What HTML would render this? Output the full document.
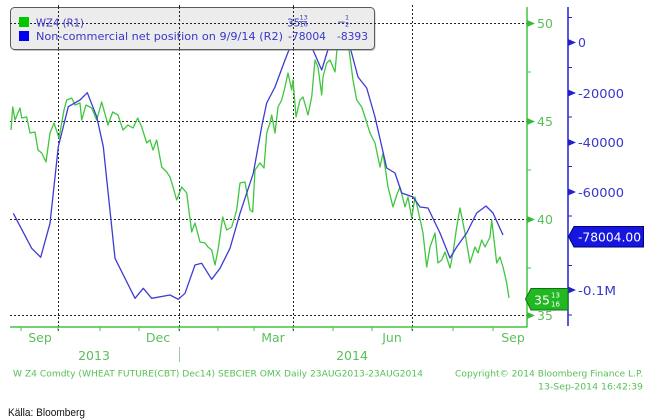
<!DOCTYPE html>
<html><head><meta charset="utf-8"><style>
html,body{margin:0;padding:0;background:#fff;}
svg{display:block;}
</style></head><body>
<svg width="648" height="419" viewBox="0 0 648 419" xmlns="http://www.w3.org/2000/svg">
<rect width="648" height="419" fill="#fff"/>
<!-- gridlines -->
<g stroke="#222" stroke-width="1" stroke-dasharray="2,2" fill="none">
<line x1="10" y1="23.5" x2="527" y2="23.5"/>
<line x1="10" y1="121.5" x2="527" y2="121.5"/>
<line x1="10" y1="219.5" x2="527" y2="219.5"/>
<line x1="10" y1="315.5" x2="527" y2="315.5"/>
<line x1="58.5" y1="5" x2="58.5" y2="331"/>
<line x1="179.5" y1="5" x2="179.5" y2="331"/>
<line x1="293.5" y1="5" x2="293.5" y2="331"/>
<line x1="412.5" y1="5" x2="412.5" y2="331"/>
</g>
<!-- series -->
<polyline fill="none" stroke="#3fc63f" stroke-width="1.3" stroke-linejoin="round" points="11,130 12.7,107 15,120 20,108 21.7,118 26.7,117 30,133 35,132 38,150 41.7,153 46,162 50,133 54,123 59,138 64,110 66.7,100 71.7,98 75,105 80,103 81.7,120 86,105 91.7,108 96.7,120 101.7,102 108,125 112.7,112 118,115 123,130 128,125 133,128 137.7,118 141.7,127 146.7,143 150,140 153,150 156.7,140 161.7,167 166.7,172 170,177 173,187 176.7,200 181.7,187 186.7,193 191.7,232 195,223 200,242 205,243 208,247 211.7,250 215,265 218,250 222.7,217 226.7,230 231.7,227 236.7,210 240,183 245,182 250,210 252.7,212 255,170 260,163 264,168 266.7,133 270,123 271.7,115 275,133 278,107 281.7,100 285,87 288,73 291.7,90 293,80 296,117 300,100 303,97 308,115 311.7,97 315,60 318,67 321.7,95 323,77 326.7,63 330,60 335,72 338,37 341.7,43 345,33 348,42 353,80 356.7,100 361.7,107 365,117 370,133 375,143 380,167 383,153 388,187 393,207 396.7,195 400,187 405,207 408,197 411.7,218 415,197 418,210 423,233 426.7,267 430,247 435,233 438,263 441.7,260 445,252 450,268 453,253 456.7,227 460,208 465,233 470,263 475,247 478,253 481.7,240 485,247 490,237 491.7,220 496.7,263 500,257 503,267 506.7,283 509,298"/>
<polyline fill="none" stroke="#3c3cd4" stroke-width="1.3" stroke-linejoin="round" points="13.3,213.3 31.7,248.3 40.7,257.3 50,223.3 58.3,146.7 68.3,106.7 80,100 87.3,92.7 96.7,116.7 103.3,146.7 115,258.3 135,298.3 143.3,288.3 151.7,298.3 170,295 178.3,299.3 185,293.3 195,265 201.7,263.3 211.7,279.3 220,268.3 230,248.3 240,213.3 253.3,173.3 262,125 266.7,103 275,87 285,60 291.7,43 293,39 306.7,40 313,50 321.7,70 330,43 333,40 343,38 350,47 358,77 366.7,88 375,117 386.7,168 395,173 401.7,193 413,197 420,207 428,208 440,233 450,258 456.7,247 466.7,233 476.7,213 486,206 493,213 503,235"/>
<!-- legend -->
<rect x="11.5" y="9" width="364" height="42" rx="4" fill="#777" opacity="0.45"/>
<rect x="10.5" y="7.5" width="364" height="42" rx="4" fill="#ececec" stroke="#5a5a5a" stroke-width="1"/>
<g stroke="#222" stroke-width="1" stroke-dasharray="2,2" fill="none">
<line x1="10" y1="23.5" x2="375" y2="23.5"/>
<line x1="58.5" y1="7" x2="58.5" y2="50"/>
<line x1="179.5" y1="7" x2="179.5" y2="50"/>
<line x1="293.5" y1="7" x2="293.5" y2="50"/>
</g>
<rect x="19" y="17" width="10" height="10" fill="#00c800"/>
<rect x="19" y="31" width="10" height="10" fill="#0000ee"/>
<g font-family="DejaVu Sans, sans-serif" font-size="10.5" fill="#3838c8">
<text x="36" y="26.5" textLength="48" lengthAdjust="spacingAndGlyphs">WZ4 (R1)</text>
<text x="36" y="40" textLength="247" lengthAdjust="spacingAndGlyphs">Non-commercial net position on 9/9/14 (R2)</text>
<text x="287" y="26.5">35</text>
<text x="299.5" y="19.5" font-size="6.5">13</text>
<text x="299.5" y="26.5" font-size="6.5">16</text>
<line x1="299" y1="21.5" x2="307" y2="21.5" stroke="#3838c8" stroke-width="0.7"/>
<text x="337" y="25.5">−</text>
<text x="345" y="19.5" font-size="6.5">1</text>
<text x="345" y="26.5" font-size="6.5">2</text>
<text x="288" y="40" textLength="38" lengthAdjust="spacingAndGlyphs">-78004</text>
<text x="337" y="40" textLength="31" lengthAdjust="spacingAndGlyphs">-8393</text>
</g>
<!-- axes -->
<line x1="527" y1="7" x2="527" y2="327.5" stroke="#44c444" stroke-width="1.5"/>
<line x1="10" y1="327" x2="527" y2="327" stroke="#44c444" stroke-width="1.5"/>
<line x1="568" y1="7" x2="568" y2="326" stroke="#2020d0" stroke-width="1.5"/>
<g stroke="#44c444" stroke-width="1">
<line x1="21" y1="327" x2="21" y2="331"/><line x1="58" y1="327" x2="58" y2="331"/><line x1="100" y1="327" x2="100" y2="331"/><line x1="139" y1="327" x2="139" y2="331"/><line x1="179" y1="327" x2="179" y2="331"/><line x1="218" y1="327" x2="218" y2="331"/><line x1="254" y1="327" x2="254" y2="331"/><line x1="293" y1="327" x2="293" y2="331"/><line x1="333" y1="327" x2="333" y2="331"/><line x1="372" y1="327" x2="372" y2="331"/><line x1="412" y1="327" x2="412" y2="331"/><line x1="453" y1="327" x2="453" y2="331"/><line x1="493" y1="327" x2="493" y2="331"/>
<line x1="527" y1="72" x2="531" y2="72"/><line x1="527" y1="170" x2="531" y2="170"/><line x1="527" y1="268" x2="531" y2="268"/>
</g>
<g fill="#33bb33">
<path d="M527,20 L535,23.5 L527,27 Z"/><path d="M527,118 L535,121.5 L527,125 Z"/><path d="M527,216 L535,219.5 L527,223 Z"/><path d="M527,312 L535,315.5 L527,319 Z"/>
</g>
<g stroke="#2020d0" stroke-width="1">
<line x1="568" y1="17.5" x2="572" y2="17.5"/><line x1="568" y1="67.5" x2="572" y2="67.5"/><line x1="568" y1="117" x2="572" y2="117"/><line x1="568" y1="166.5" x2="572" y2="166.5"/><line x1="568" y1="216" x2="572" y2="216"/><line x1="568" y1="265.5" x2="572" y2="265.5"/><line x1="568" y1="315" x2="572" y2="315"/>
</g>
<g fill="#2020d0">
<path d="M568,39 L576,42.5 L568,46 Z"/><path d="M568,89.5 L576,93 L568,96.5 Z"/><path d="M568,139 L576,142.5 L568,146 Z"/><path d="M568,188.5 L576,192 L568,195.5 Z"/><path d="M568,286.5 L576,290 L568,293.5 Z"/>
</g>
<g font-family="DejaVu Sans, sans-serif" font-size="12.5" fill="#5cbf5c">
<text x="537" y="28">50</text><text x="537" y="126">45</text><text x="537" y="224">40</text><text x="537" y="320">35</text>
</g>
<g font-family="DejaVu Sans, sans-serif" font-size="12.5" fill="#3838cc">
<text x="578" y="47">0</text>
<text x="578" y="98" textLength="46" lengthAdjust="spacingAndGlyphs">-20000</text>
<text x="578" y="147" textLength="46" lengthAdjust="spacingAndGlyphs">-40000</text>
<text x="578" y="197" textLength="46" lengthAdjust="spacingAndGlyphs">-60000</text>
<text x="578" y="295" textLength="38" lengthAdjust="spacingAndGlyphs">-0.1M</text>
</g>
<!-- value boxes -->
<path d="M568.5,236.5 L574,226.5 L643.5,226.5 L643.5,247 L574,247 Z" fill="#1616e0" stroke="#00007a" stroke-width="1"/>
<text x="578" y="241.5" font-family="DejaVu Sans, sans-serif" font-size="12.5" fill="#fff" textLength="63" lengthAdjust="spacingAndGlyphs">-78004.00</text>
<path d="M525.5,299 L531,288.5 L568,288.5 L568,310 L531,310 Z" fill="#22b822" stroke="#117011" stroke-width="1"/>
<g font-family="DejaVu Sans, sans-serif" fill="#fff">
<text x="534" y="304.5" font-size="12.5">35</text>
<text x="551" y="297.5" font-size="7">13</text>
<text x="551" y="306.5" font-size="7">16</text>
</g>
<!-- x labels -->
<g font-family="DejaVu Sans, sans-serif" font-size="12.5" fill="#5cbf5c" text-anchor="middle">
<text x="40" y="342">Sep</text><text x="158" y="342">Dec</text><text x="273" y="342">Mar</text><text x="392" y="342">Jun</text><text x="513" y="342">Sep</text>
<text x="94" y="360">2013</text><text x="352" y="360">2014</text>
</g>
<line x1="179.5" y1="347" x2="179.5" y2="362" stroke="#9fc89f" stroke-width="1"/>
<!-- footer -->
<g font-family="DejaVu Sans, sans-serif" font-size="8.5" fill="#55c055">
<text x="13" y="376.5" textLength="410" lengthAdjust="spacingAndGlyphs">W Z4 Comdty (WHEAT FUTURE(CBT) Dec14) SEBCIER OMX  Daily 23AUG2013-23AUG2014</text>
<text x="455" y="376.5" textLength="188" lengthAdjust="spacingAndGlyphs">Copyright© 2014 Bloomberg Finance L.P.</text>
<text x="538" y="389.5" textLength="105" lengthAdjust="spacingAndGlyphs">13-Sep-2014 16:42:39</text>
</g>
<text x="8" y="416" font-family="Liberation Sans, sans-serif" font-size="11" fill="#111" textLength="77" lengthAdjust="spacingAndGlyphs">Källa: Bloomberg</text>
</svg>
</body></html>
